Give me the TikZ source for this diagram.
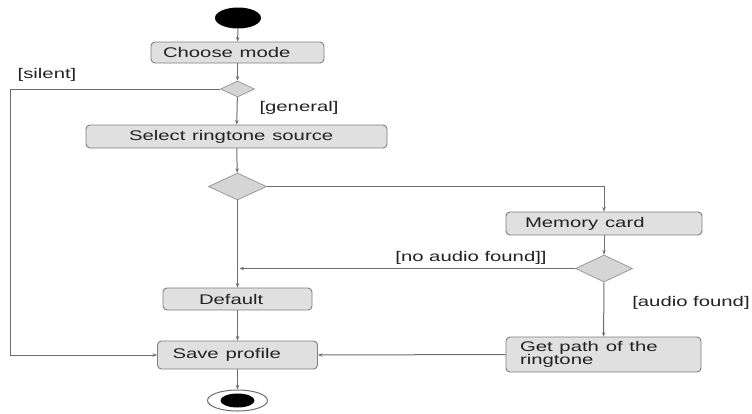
\documentclass[tikz,border=0pt]{standalone}
\usepackage{fontspec}
\setmainfont{Liberation Sans}
\usepackage{graphicx}
\usetikzlibrary{shapes.geometric,arrows.meta}
\definecolor{boxfill}{HTML}{E0E0E0}
\definecolor{boxline}{HTML}{7F7F7F}
\definecolor{lnc}{HTML}{6E6E6E}
\definecolor{txt}{HTML}{222222}
\newcommand{\wt}[1]{\scalebox{1.45}[1]{#1}}
\begin{document}
\begin{tikzpicture}[x=1pt,y=-1pt,
  every node/.style={font=\fontsize{14}{13}\selectfont, text=txt},
  actbox/.style={draw=boxline, fill=boxfill, rounded corners=4pt, line width=0.9pt, align=left, inner ysep=0pt},
  dia/.style={diamond, draw=boxline!85, fill=boxfill!95!black, inner sep=0pt, line width=0.7pt},
  arr/.style={draw=lnc, line width=1pt, -{Stealth[length=4.5pt,width=3.5pt]}},
  guard/.style={inner sep=0pt}]
\useasboundingbox (0,0) rectangle (752,413);
\fill[white] (0,0) rectangle (752,413);
% nodes
\node[ellipse, fill=black, minimum width=46pt, minimum height=21pt, inner sep=0pt] (start) at (238,18) {};
\node[actbox, minimum height=21pt, inner xsep=12pt, text width=149pt] (cm) at (237.5,52.5) {\wt{Choose mode}};
\node[dia, minimum width=34pt, minimum height=16pt] (d1) at (237.5,89) {};
\node[actbox, minimum height=23pt, inner xsep=43pt, text width=215pt] (srs) at (236.5,136.5) {\wt{Select ringtone source}};
\node[dia, minimum width=58pt, minimum height=27pt] (d2) at (237.5,186.5) {};
\node[actbox, minimum height=23pt, inner xsep=19pt, text width=158pt] (mc) at (604,223.5) {\wt{Memory card}};
\node[dia, minimum width=57pt, minimum height=27pt] (d3) at (604,268.5) {};
\node[actbox, minimum height=22pt, inner xsep=36pt, text width=77pt] (def) at (237.5,299) {\wt{Default}};
\node[actbox, minimum height=28pt, inner xsep=15pt, text width=130pt] (sp) at (237.5,355) {\wt{Save profile}};
\node[actbox, minimum height=35pt, inner xsep=14pt, text width=167pt] (gp) at (603.5,354.5) {\wt{Get path of the}\\[-0.5pt]\wt{ringtone}};
\node[ellipse, draw=lnc, fill=white, line width=1pt, minimum width=60pt, minimum height=21pt, inner sep=0pt] (end) at (237.5,400.5) {};
\node[ellipse, fill=black, minimum width=34pt, minimum height=14pt, inner sep=0pt] (endin) at (end.center) {};
% guards
\node[guard] (gsil) at (47,75) {\wt{[silent]}};
\node[guard] (ggen) at (299,108) {\wt{[general]}};
\node[guard] (gnoa) at (471,258) {\wt{[no audio found]]}};
\node[guard] (gaud) at (691,303) {\wt{[audio found]}};
% connectors
\coordinate (silc) at (10,89);
\coordinate (noa) at (239.5,268.5);
\draw[arr] (start) -- (cm);
\draw[arr] (cm) -- (d1);
\draw[arr] (d1.west) -- (silc) |- (sp.west);
\draw[arr] (d1) -- (srs);
\draw[arr] (srs) -- (d2);
\draw[arr] (d2.east) -| (mc.north);
\draw[arr] (mc) -- (d3);
\draw[arr] (d3.west) -- (noa);
\draw[arr] (d2) -- (def);
\draw[arr] (def) -- (sp);
\draw[arr] (d3) -- (gp);
\draw[arr] (gp.west) -- (sp.east);
\draw[arr] (sp) -- (end);
\end{tikzpicture}
\end{document}
